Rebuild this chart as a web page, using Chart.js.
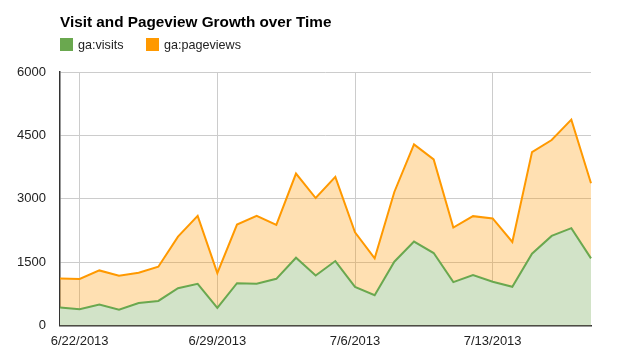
<!DOCTYPE html>
<html>
<head>
<meta charset="utf-8">
<script src="https://cdn.jsdelivr.net/npm/chart.js@4"></script>
<style>
  html, body { margin: 0; padding: 0; background: #fff; }
  #wrap { width: 619px; height: 361px; position: relative; }
</style>
</head>
<body>
<div id="wrap"><canvas id="c" width="619" height="361"></canvas></div>
<script>
const dates = ["6/21/2013","6/22/2013","6/23/2013","6/24/2013","6/25/2013","6/26/2013","6/27/2013",
  "6/28/2013","6/29/2013","6/30/2013","7/1/2013","7/2/2013","7/3/2013","7/4/2013","7/5/2013",
  "7/6/2013","7/7/2013","7/8/2013","7/9/2013","7/10/2013","7/11/2013","7/12/2013","7/13/2013",
  "7/14/2013","7/15/2013","7/16/2013","7/17/2013","7/18/2013"];
const visits = [421,381,492,373,532,579,881,984,413,1000,984,1103,1603,1183,1524,
  913,714,1508,1984,1714,1024,1191,1032,913,1698,2119,2302,1587];
const pageviews = [1109,1100,1302,1175,1246,1389,2103,2595,1238,2389,2595,2381,3595,3016,3516,
  2206,1587,3159,4286,3929,2318,2587,2532,1976,4103,4389,4873,3365];
const xTickLabels = ["6/22/2013","6/29/2013","7/6/2013","7/13/2013"];
const yTicks = [0,1500,3000,4500,6000];
const titleText = 'Visit and Pageview Growth over Time';

// Title and legend drawn by a small plugin at fixed spots above the plot
const headerPlugin = {
  id: 'header',
  afterDraw(chart) {
    const c = chart.ctx;
    const left = chart.chartArea.left;
    c.save();
    c.fillStyle = '#000';
    c.textBaseline = 'alphabetic';
    c.textAlign = 'left';
    c.font = 'bold 15.3px "Liberation Sans", Arial, sans-serif';
    c.fillText(titleText, left, 27);
    c.font = '12.6px "Liberation Sans", Arial, sans-serif';
    let x = left;
    chart.data.datasets.forEach((d) => {
      c.fillStyle = d.borderColor;
      c.fillRect(x, 38, 13, 13);
      c.fillStyle = '#222';
      c.fillText(d.label, x + 18, 49);
      x += 86;
    });
    c.restore();
  }
};

const ctx = document.getElementById('c').getContext('2d');
new Chart(ctx, {
  type: 'line',
  data: {
    labels: dates,
    datasets: [
      {
        label: 'ga:visits',
        data: visits,
        borderColor: '#6aa84f',
        backgroundColor: 'rgb(210,227,200)',
        fill: 'origin',
        borderWidth: 2,
        pointRadius: 0,
        tension: 0
      },
      {
        label: 'ga:pageviews',
        data: pageviews,
        borderColor: '#ff9900',
        backgroundColor: 'rgba(255,153,0,0.3)',
        fill: 'origin',
        borderWidth: 2,
        pointRadius: 0,
        tension: 0
      }
    ]
  },
  plugins: [headerPlugin],
  options: {
    responsive: false,
    animation: false,
    layout: { padding: { left: 0, right: 28, top: 72, bottom: 4 } },
    plugins: {
      title: { display: false },
      legend: { display: false },
      tooltip: { enabled: false }
    },
    scales: {
      x: {
        type: 'category',
        offset: false,
        grid: {
          color: (c) => (c.tick && xTickLabels.includes(dates[c.tick.value])) ? '#cccccc' : 'rgba(0,0,0,0)',
          drawTicks: false
        },
        border: { color: '#333', width: 1.5 },
        ticks: {
          autoSkip: false,
          maxRotation: 0,
          padding: 8,
          color: '#222',
          font: { family: 'Liberation Sans, Arial', size: 13 },
          callback: function(v) { const l = dates[v]; return xTickLabels.includes(l) ? l : ''; }
        }
      },
      y: {
        min: 0,
        max: 6000,
        afterBuildTicks: (axis) => { axis.ticks = yTicks.map(v => ({ value: v })); },
        afterFit: (axis) => { axis.width = 60; },
        grid: { color: '#cccccc', drawTicks: false },
        border: { color: '#333', width: 1.5 },
        ticks: {
          padding: 14,
          color: '#222',
          font: { family: 'Liberation Sans, Arial', size: 13 },
          callback: (v) => String(v)
        }
      }
    }
  }
});
</script>
</body>
</html>
